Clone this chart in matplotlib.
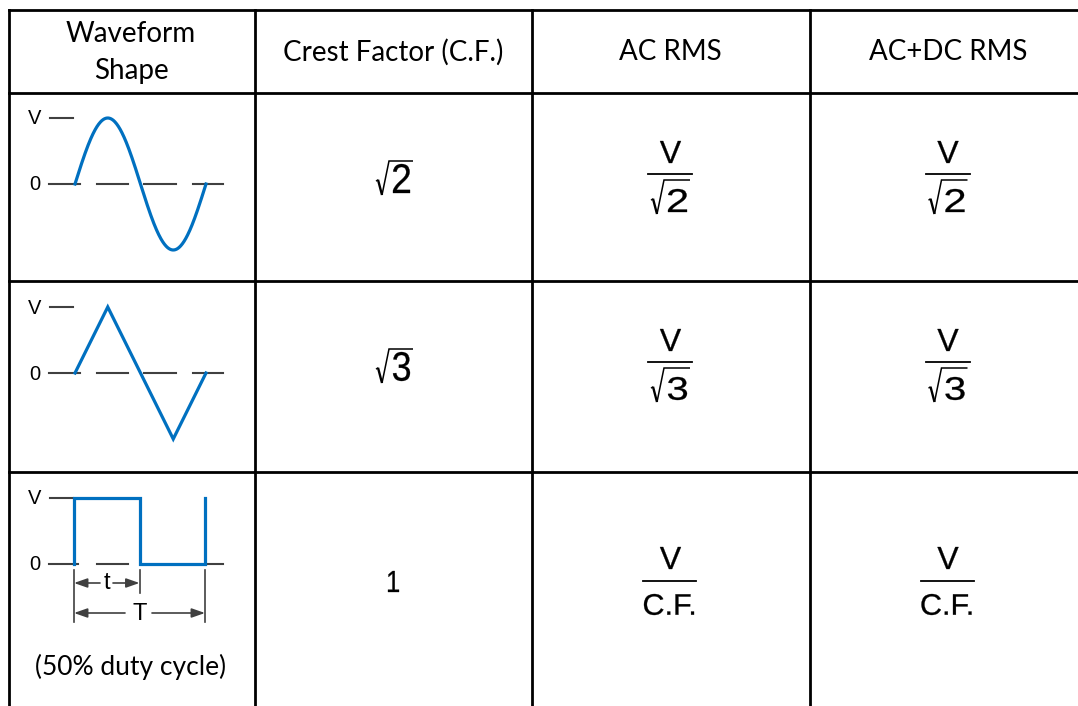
import numpy as np
import matplotlib
matplotlib.use("Agg")
import matplotlib.pyplot as plt
from matplotlib.textpath import TextPath
from matplotlib.font_manager import FontProperties
from matplotlib.patches import PathPatch
from matplotlib.transforms import Affine2D

# ---------------- data ----------------
headers = ["Waveform\nShape", "Crest Factor (C.F.)", "AC RMS", "AC+DC RMS"]
waveforms = ["sine", "triangle", "square"]
crest_radicands = ["2", "3", None]
crest_plain = [None, None, "1"]
rms_numerators = ["V", "V", "V"]
ac_rms_radicands = ["2", "3", None]
ac_rms_plain = [None, None, "C.F."]
acdc_rms_radicands = ["2", "3", None]
acdc_rms_plain = [None, None, "C.F."]
level_labels = ["V", "0"]
duty_note = "(50% duty cycle)"
# normalized waveform shapes (phase in periods, level in units of V)
triangle_phase = [0, 0.25, 0.5, 0.75, 1.0]
triangle_level = [0, 1, 0, -1, 0]
square_phase = [0, 0, 0.5, 0.5, 1.0, 1.0]
square_level = [0, 1, 1, 0, 0, 1]

# ---------------- layout ----------------
W, H = 1078, 706
fig = plt.figure(figsize=(W / 100, H / 100), dpi=100)
ax = fig.add_axes([0, 0, 1, 1])
ax.set_xlim(0, W)
ax.set_ylim(H, 0)
ax.axis("off")

FP = FontProperties(family="Liberation Sans")


def glyph(s, x0, x1, ytop, ybot):
    """Draw text s so that its ink fills the given pixel box."""
    tp = TextPath((0, 0), s, size=1, prop=FP)
    ext = tp.get_extents()
    sx = (x1 - x0) / ext.width
    sy = (ybot - ytop) / ext.height
    tr = Affine2D().translate(-ext.x0, -ext.y1).scale(sx, -sy).translate(x0, ytop)
    ax.add_patch(PathPatch(tr.transform_path(tp), facecolor="black", edgecolor="black",
                           lw=0.22, joinstyle="round"))


def sqrt_sym(s, dx0, dx1, dt, db, gap):
    glyph(s, dx0, dx1, dt, db)
    over = dt - gap
    bot = db + 2
    tick = over + 0.55 * (bot - over)
    ax.plot([dx0 - 17, dx0 - 15], [tick + 1.5, tick], color="black", lw=1.0,
            solid_capstyle="butt")
    ax.plot([dx0 - 15, dx0 - 11], [tick, bot], color="black", lw=1.7,
            solid_capstyle="butt")
    ax.plot([dx0 - 11, dx0 - 4, dx1 + 3], [bot, over, over],
            color="black", lw=1.1, solid_joinstyle="miter", solid_capstyle="butt")


col_x = [9, 255, 532, 810, 1090]
row_y = [10, 93, 281, 472, 720]
border_lw = 2.0
for x in col_x[:-1]:
    ax.plot([x, x], [row_y[0], H + 5], color="black", lw=border_lw, solid_capstyle="projecting")
for y in row_y[:-1]:
    ax.plot([col_x[0], W + 5], [y, y], color="black", lw=border_lw, solid_capstyle="projecting")

hfont = dict(family="Lato", fontsize=20, color="black")
hcent = [131, 393, 670, 948]
ax.text(hcent[0], 34, "Waveform", ha="center", va="center", **hfont)
ax.text(hcent[0], 71, "Shape", ha="center", va="center", **hfont)
for i in range(1, 4):
    ax.text(hcent[i], 52, headers[i], ha="center", va="center", **hfont)

col_shift = [0, 277.5]   # AC RMS, AC+DC RMS
row_shift = [0, 188]
for r in range(3):
    if r < 2:
        dy = row_shift[r]
        sqrt_sym(crest_radicands[r], 393, 410, 164 + dy, 193 + dy, 3)
        dens = [ac_rms_radicands[r], acdc_rms_radicands[r]]
        for k, den in enumerate(dens):
            dx = col_shift[k]
            glyph(rms_numerators[r], 660 + dx, 681 + dx, 141 + dy, 163 + dy)
            ax.plot([648 + dx, 692 + dx], [174 + dy, 174 + dy], color="black", lw=1.3)
            sqrt_sym(den, 668 + dx, 687 + dx, 189 + dy, 212 + dy, 9)
    else:
        glyph(crest_plain[r], 388, 399, 571, 592)
        dens = [ac_rms_plain[r], acdc_rms_plain[r]]
        for k, den in enumerate(dens):
            dx = col_shift[k]
            glyph(rms_numerators[r], 660 + dx, 681 + dx, 547, 569)
            ax.plot([643 + dx, 696 + dx], [581, 581], color="black", lw=1.3)
            glyph(den, 644 + dx, 694 + dx, 594, 615)

# waveform drawings
blue = "#0070C0"
gray = "#404040"
x0, period, amp = 75, 131, 66
zero_ys = [184, 373, 564]
tick_lw = 1.5
lbl = dict(family="Liberation Sans", fontsize=14.5, color="black", ha="center", va="center")
dim_lbl = dict(family="Liberation Sans", fontsize=17, color="black", ha="center", va="center")
for r, kind in enumerate(waveforms):
    zy = zero_ys[r]
    vy = zy - amp
    ax.text(35, vy + 1, level_labels[0], **lbl)
    ax.text(35, zy + 1, level_labels[1], **lbl)
    ax.plot([50, 73], [vy, vy], color=gray, lw=tick_lw)
    if kind != "square":
        segs = [(49, 80), (97, 128), (144, 176), (193, 223)]
    else:
        segs = [(49, 78), (97, 128), (206, 223)]
    for a, b in segs:
        ax.plot([a, b], [zy, zy], color=gray, lw=tick_lw)
    if kind == "sine":
        ph = np.linspace(0, 1, 300)
        ax.plot(x0 + period * ph, zy - amp * np.sin(2 * np.pi * ph), color=blue, lw=2.3)
    elif kind == "triangle":
        ax.plot(x0 + period * np.array(triangle_phase), zy - amp * np.array(triangle_level),
                color=blue, lw=2.3, solid_joinstyle="miter")
    else:
        xs = x0 - 1 + period * np.array(square_phase)
        ax.plot(xs, zy - amp * np.array(square_level), color=blue, lw=2.3, solid_joinstyle="miter")
        # dimension lines
        xa, xm, xb = x0 - 1, x0 - 1 + period * 0.5, x0 - 1 + period
        ax.plot([xa, xa], [570, 622], color=gray, lw=1.2)
        ax.plot([xm, xm], [570, 593], color=gray, lw=1.2)
        ax.plot([xb, xb], [570, 622], color=gray, lw=1.2)
        ap = dict(arrowstyle="-|>,head_length=0.8,head_width=0.28", color=gray, lw=1.2,
                  shrinkA=0, shrinkB=0)
        ax.annotate("", xy=(xa, 583), xytext=(100, 583), arrowprops=ap)
        ax.annotate("", xy=(xm, 583), xytext=(113, 583), arrowprops=ap)
        ax.annotate("", xy=(xa, 613), xytext=(125, 613), arrowprops=ap)
        ax.annotate("", xy=(xb, 613), xytext=(152, 613), arrowprops=ap)
        ax.text(107, 583, "t", **dim_lbl)
        ax.text(140, 614, "T", **dim_lbl)
        ax.text(131, 667, duty_note, family="Lato", fontsize=19, color="black",
                ha="center", va="center")

fig.savefig("out.png", dpi=100)
